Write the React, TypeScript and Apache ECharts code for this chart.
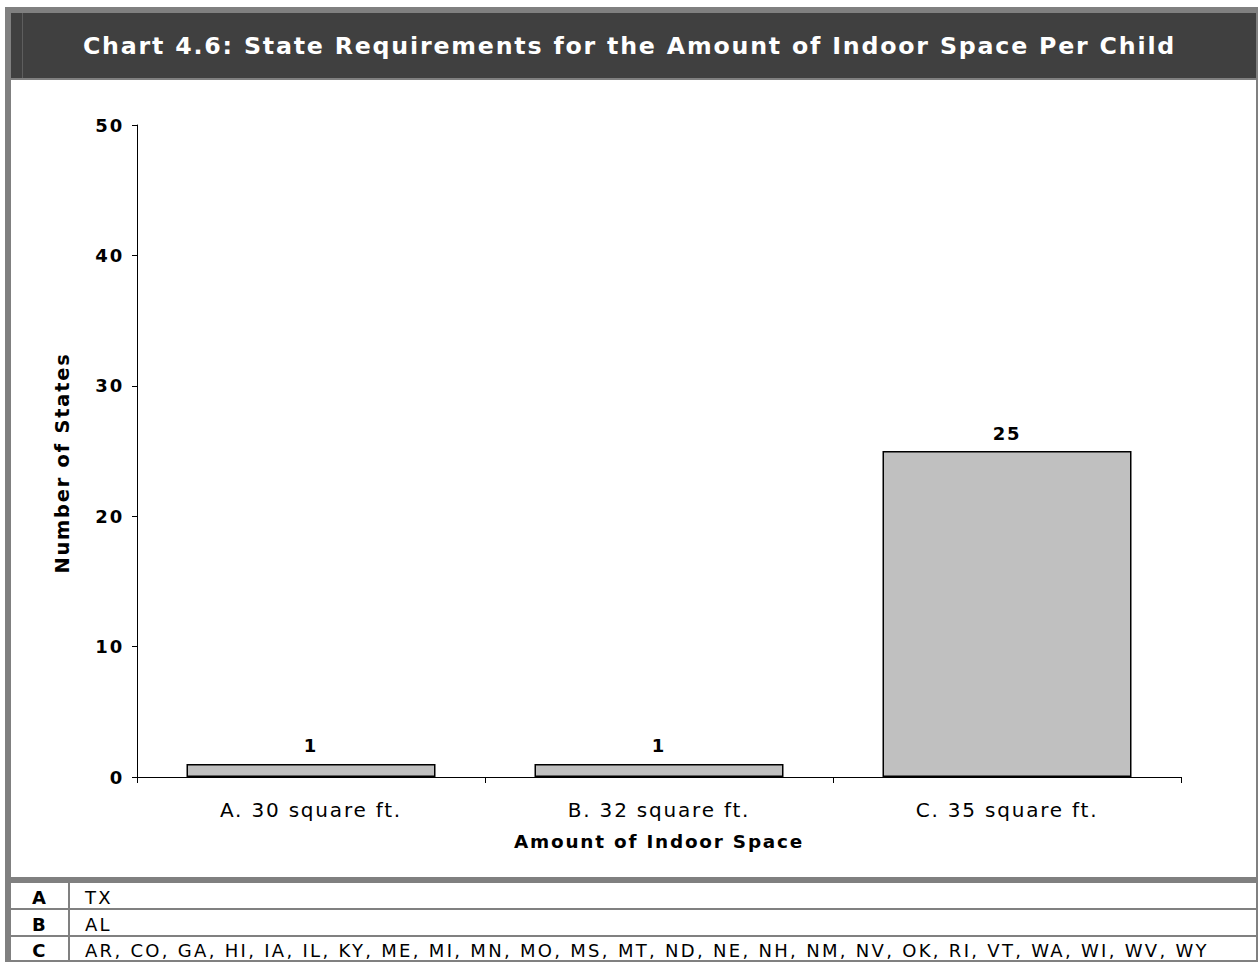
import React, { useEffect, useRef } from "react";
import * as echarts from "echarts";

const TITLE = "Chart 4.6: State Requirements for the Amount of Indoor Space Per Child";
const X_NAME = "Amount of Indoor Space";
const Y_NAME = "Number of States";
const categories = ["A. 30 square ft.", "B. 32 square ft.", "C. 35 square ft."];
const stateCounts = [1, 1, 25];
const Y_MIN = 0;
const Y_MAX = 50;
const Y_INTERVAL = 10;
const tableKeys = ["A", "B", "C"];
const statesA = ["TX"];
const statesB = ["AL"];
const statesC = [
  "AR", "CO", "GA", "HI", "IA", "IL", "KY", "ME", "MI", "MN", "MO", "MS", "MT",
  "ND", "NE", "NH", "NM", "NV", "OK", "RI", "VT", "WA", "WI", "WV", "WY",
];
const tableStates = [statesA, statesB, statesC];

const FONT = "'DejaVu Sans', Verdana, sans-serif";
const GRAY = "#808080";
const W = 1259;
const H = 965;
const rowCenters = [898, 924.5, 951];

export default function App() {
  const ref = useRef<HTMLDivElement>(null);

  useEffect(() => {
    if (!ref.current) return;
    const chart = echarts.init(ref.current, null, { renderer: "svg" });
    chart.setOption({
      animation: false,
      textStyle: { fontFamily: FONT },
      title: {
        text: TITLE,
        left: "center",
        top: 34,
        padding: 0,
        textStyle: { color: "#ffffff", fontSize: 23.7, fontWeight: "bold", fontFamily: FONT },
      },
      grid: { left: 137, right: W - 1181, top: 125, bottom: H - 777, containLabel: false },
      xAxis: {
        type: "category",
        data: categories,
        boundaryGap: true,
        axisLine: { show: true, lineStyle: { color: "#000", width: 1 } },
        axisTick: { show: true, length: 6, alignWithLabel: false, lineStyle: { color: "#000" } },
        axisLabel: { interval: 0, margin: 23, fontSize: 20, color: "#000", fontFamily: FONT },
        name: X_NAME,
        nameLocation: "middle",
        nameGap: 55,
        nameTextStyle: { fontSize: 18.4, fontWeight: "bold", color: "#000", fontFamily: FONT },
      },
      yAxis: {
        type: "value",
        min: Y_MIN,
        max: Y_MAX,
        interval: Y_INTERVAL,
        axisLine: { show: true, lineStyle: { color: "#000", width: 1 } },
        axisTick: { show: true, length: 5, lineStyle: { color: "#000" } },
        splitLine: { show: false },
        axisLabel: { margin: 13, fontSize: 18, fontWeight: "bold", color: "#000", fontFamily: FONT },
      },
      series: [
        {
          type: "bar",
          data: stateCounts,
          barWidth: 249,
          itemStyle: { color: "#c0c0c0", borderColor: "#000", borderWidth: 1.5 },
          label: {
            show: true,
            position: "top",
            distance: 9,
            fontSize: 18,
            fontWeight: "bold",
            color: "#000",
            fontFamily: FONT,
          },
        },
      ],
      graphic: [
        { type: "rect", silent: true, z: -1, shape: { x: 11, y: 13, width: 1245, height: 65 }, style: { fill: "#404040" } },
        { type: "rect", silent: true, shape: { x: 22, y: 13, width: 1, height: 65 }, style: { fill: "#5e5e5e" } },
        { type: "rect", silent: true, shape: { x: 5, y: 7, width: 1253, height: 6 }, style: { fill: GRAY } },
        { type: "rect", silent: true, shape: { x: 5, y: 7, width: 6, height: 955 }, style: { fill: GRAY } },
        { type: "rect", silent: true, shape: { x: 1256, y: 7, width: 2, height: 955 }, style: { fill: GRAY } },
        { type: "rect", silent: true, shape: { x: 11, y: 78, width: 1245, height: 2 }, style: { fill: GRAY } },
        { type: "rect", silent: true, shape: { x: 11, y: 877, width: 1245, height: 6 }, style: { fill: GRAY } },
        { type: "rect", silent: true, shape: { x: 11, y: 908, width: 1245, height: 2 }, style: { fill: GRAY } },
        { type: "rect", silent: true, shape: { x: 11, y: 935, width: 1245, height: 2 }, style: { fill: GRAY } },
        { type: "rect", silent: true, shape: { x: 5, y: 960, width: 1253, height: 2 }, style: { fill: GRAY } },
        { type: "rect", silent: true, shape: { x: 68, y: 883, width: 2, height: 77 }, style: { fill: GRAY } },
        {
          type: "text",
          silent: true,
          x: 62,
          y: 463,
          rotation: Math.PI / 2,
          style: {
            text: Y_NAME,
            fill: "#000",
            fontSize: 19.4,
            fontWeight: "bold",
            fontFamily: FONT,
            align: "center",
            verticalAlign: "middle",
          },
        },
      ],
    });
    return () => chart.dispose();
  }, []);

  return (
    <div style={{ position: "absolute", left: 0, top: 0, width: W, height: H, background: "#fff", overflow: "hidden" }}>
      <div
        ref={ref}
        style={{ position: "absolute", left: 0, top: 0, width: W, height: H, letterSpacing: "1.8px" }}
      />
      {tableKeys.map((k, i) => (
        <React.Fragment key={k}>
          <div
            style={{
              position: "absolute",
              left: 11,
              width: 58,
              top: rowCenters[i] - 10,
              height: 20,
              lineHeight: "20px",
              textAlign: "center",
              fontFamily: FONT,
              fontSize: 18,
              fontWeight: "bold",
              color: "#000",
              letterSpacing: "2.3px",
              pointerEvents: "none",
            }}
          >
            {k}
          </div>
          <div
            style={{
              position: "absolute",
              left: 85,
              top: rowCenters[i] - 10,
              height: 20,
              lineHeight: "20px",
              whiteSpace: "nowrap",
              fontFamily: FONT,
              fontSize: 18,
              color: "#000",
              letterSpacing: "2.3px",
              pointerEvents: "none",
            }}
          >
            {tableStates[i].join(", ")}
          </div>
        </React.Fragment>
      ))}
    </div>
  );
}
